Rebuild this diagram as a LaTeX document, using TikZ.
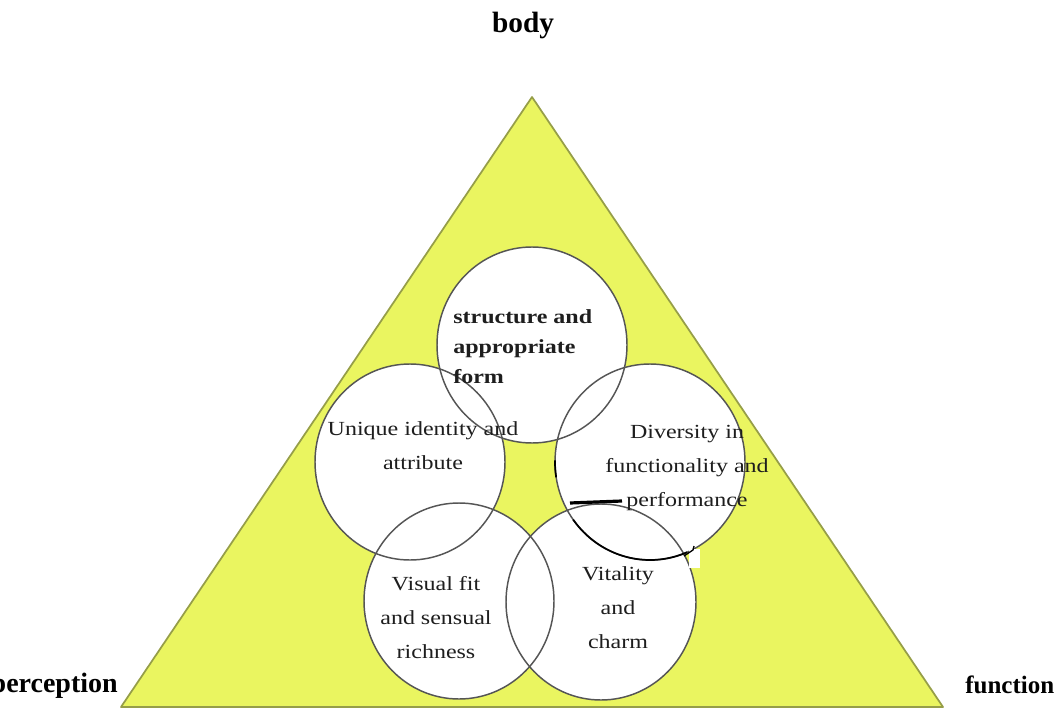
\documentclass[tikz,border=0pt]{standalone}
\usepackage{fontspec}
\setmainfont{Liberation Serif}
\newfontfamily\wideserif[FakeStretch=1.2]{Liberation Serif}
\usetikzlibrary{calc}
\definecolor{triyellow}{RGB}{234,245,96}
\definecolor{triedge}{RGB}{150,158,72}
\definecolor{ringline}{RGB}{85,85,85}
\definecolor{inktext}{RGB}{30,30,30}
\newcommand{\rowsc}[1]{\begin{tabular}[t]{@{}c@{}}#1\end{tabular}}
\newcommand{\rowsl}[1]{\begin{tabular}[t]{@{}l@{}}#1\end{tabular}}
\begin{document}
\begin{tikzpicture}[x=0.75pt,y=-0.75pt,
  cornerlabel/.style={text=black, inner sep=0pt},
  ringtext/.style={font=\wideserif\fontsize{15}{25.5}\selectfont, text=inktext, inner sep=0pt, anchor=base},
  ringfill/.style={fill=white},
  ringedge/.style={draw=ringline, line width=1.1pt},
  scribble/.style={draw=black, line width=1.3pt},
]
\useasboundingbox (0,0) rectangle (1060,713);
\clip (0,0) rectangle (1060,713);

% triangle
\coordinate (apex) at (532,97);
\coordinate (bleft) at (121,707);
\coordinate (bright) at (943,707);
\filldraw[fill=triyellow, draw=triedge, line width=1.3pt, line join=round] (apex) -- (bleft) -- (bright) -- cycle;

% circle centres
\coordinate (ctop) at (532,345);
\coordinate (cleft) at (410,462);
\coordinate (cright) at (650,462);
\coordinate (cbl) at (459,601);
\coordinate (cbr) at (601,602);

% fills first, then outlines
\foreach \c in {ctop,cleft,cright,cbl,cbr}
  \path[ringfill] (\c) ellipse [x radius=95, y radius=98];
\foreach \c in {ctop,cleft,cright,cbl,cbr}
  \path[ringedge] (\c) ellipse [x radius=95, y radius=98];

% dark retraced pieces on the right circle
\draw[scribble] ($(cright)+(181:95 and 98)$) arc [start angle=181, end angle=171, x radius=95, y radius=98];
\draw[scribble] ($(cright)+(144:95 and 98)$) arc [start angle=144, end angle=67, x radius=95, y radius=98];
\coordinate (sa) at (570,503);
\coordinate (sb) at (622,501);
\draw[black, line width=2.4pt] (sa) -- (sb);
\fill[white] (689,549) rectangle (700,568);
\coordinate (ta) at (684,556);
\coordinate (tb) at (693,550);
\coordinate (tc) at (694,546);
\draw[black, line width=1pt] (ta) -- (tb) -- (tc);

% corner labels
\node[cornerlabel, font=\fontsize{22}{24}\selectfont\bfseries, anchor=base] (body) at (523,33) {body};
\node[cornerlabel, font=\fontsize{21}{24}\selectfont\bfseries, anchor=base east] (perception) at (118,692) {perception};
\node[cornerlabel, font=\fontsize{18.75}{22}\selectfont\bfseries, anchor=base west] (function) at (965,693) {function};

% circle texts
\node[ringtext, font=\wideserif\fontsize{15}{22.5}\selectfont\bfseries, anchor=base west] (tstruct) at (453,323) {\rowsl{structure and\\appropriate\\form}};
\node[ringtext] (tunique) at (423,435) {\rowsc{Unique identity and\\attribute}};
\node[ringtext] (tdiv) at (687,438) {\rowsc{Diversity in\\functionality and\\performance}};
\node[ringtext] (tvis) at (436,590) {\rowsc{Visual fit\\and sensual\\richness}};
\node[ringtext] (tvit) at (618,580) {\rowsc{Vitality\\and\\charm}};
\end{tikzpicture}
\end{document}
